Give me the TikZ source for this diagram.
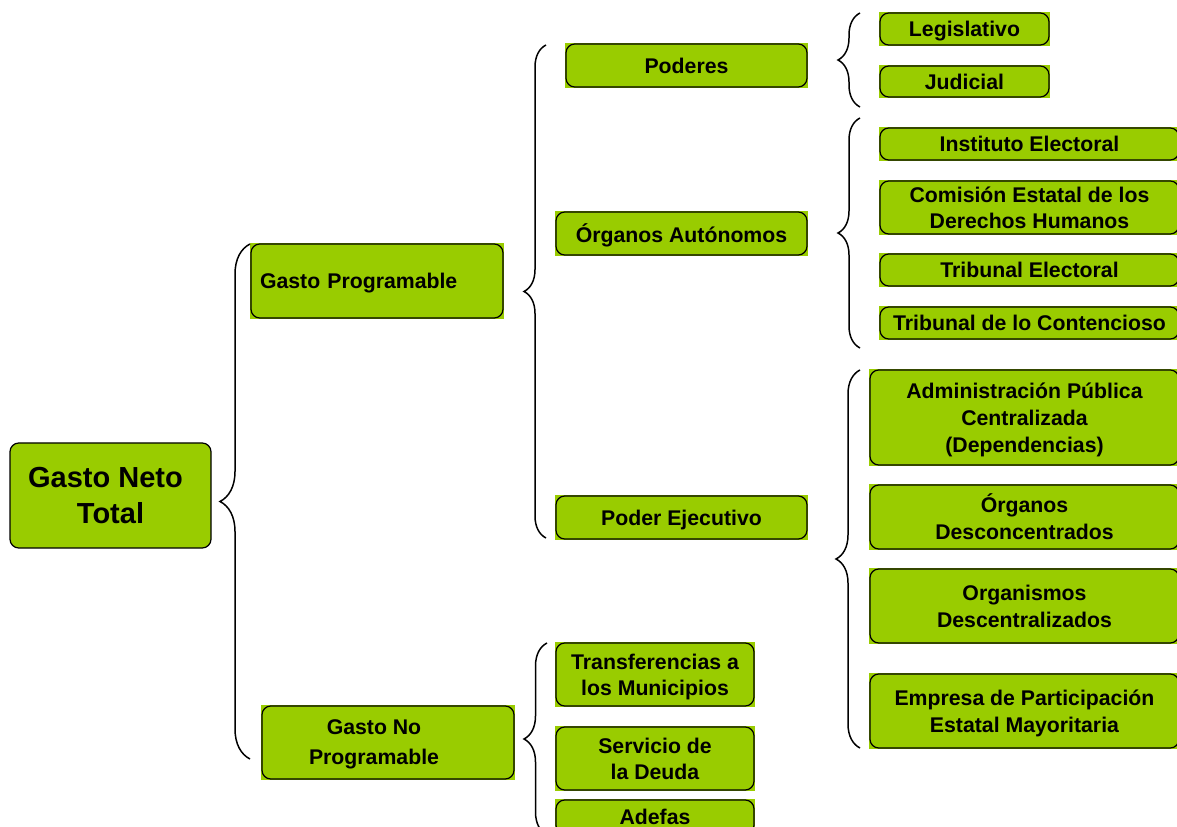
\documentclass[tikz,border=0pt]{standalone}
\usepackage{fontspec}
\setmainfont{Liberation Sans}
\usetikzlibrary{decorations.pathreplacing,backgrounds}
\definecolor{boxgreen}{RGB}{153,204,0}

% \gbox[options]{name}{left}{top}{right}{bottom}{text}
\newcommand\gbox[7][]{%
  \node[box,minimum width={(#5-#3)*0.02cm},minimum height={(#6-#4)*0.02cm},#1]
    (#2) at ({(#3+#5)/2},{(#4+#6)/2}) {#7};}

\begin{document}
\begin{tikzpicture}[x=0.02cm,y=-0.02cm,
  box/.style={draw=black, line width=0.7pt, rounded corners=5pt, fill=boxgreen,
    inner sep=0pt, align=center, text depth=0pt,
    font=\bfseries\fontsize{12.1}{14.8}\selectfont},
  wide/.style={font=\bfseries\fontsize{12.1}{15.3}\selectfont},
  cbrace/.style={decorate, decoration={brace, amplitude=#1}, line width=0.85pt},
]
\useasboundingbox (0,0) rectangle (1177,827);
\clip (0,0) rectangle (1177,827);

% root
\gbox[font=\bfseries\fontsize{16.5}{20.4}\selectfont]{gnt}{10}{443}{211}{548}{Gasto Neto\hspace*{0.2cm}\\Total}

% first level
\gbox[text width=4.68cm, align=left, inner xsep=0.18cm]{gp}{251}{244}{503}{318}{Gasto Programable}
\gbox[font=\bfseries\fontsize{12.1}{17}\selectfont]{gnp}{262}{706}{514}{779}{Gasto No\hspace*{0.56cm}\\Programable\hspace*{0.56cm}}

% second level
\gbox{pod}{566}{44}{807}{87}{Poderes}
\gbox{oa}{556}{212}{807}{255}{Órganos Autónomos}
\gbox{pe}{556}{496}{807}{539}{Poder Ejecutivo}
\gbox{tm}{556}{643}{754}{706}{Transferencias a\\los Municipios}
\gbox{sd}{556}{727}{754}{790}{Servicio de\\la Deuda}
\gbox{ad}{556}{800}{754}{834}{Adefas}

% third level
\gbox{leg}{880}{13}{1049}{45}{Legislativo}
\gbox{jud}{880}{66}{1049}{97}{Judicial}
\gbox{ie}{880}{128}{1179}{160}{Instituto Electoral}
\gbox{ce}{880}{181}{1179}{234}{Comisión Estatal de los\\Derechos Humanos}
\gbox{te}{880}{254}{1179}{286}{Tribunal Electoral}
\gbox{tc}{880}{307}{1179}{339}{Tribunal de lo Contencioso}
\gbox[wide]{apc}{870}{370}{1179}{465}{Administración Pública\\Centralizada\\(Dependencias)}
\gbox[wide]{od}{870}{485}{1179}{549}{Órganos\\Desconcentrados}
\gbox[wide]{ode}{870}{569}{1179}{643}{Organismos\\Descentralizados}
\gbox[wide]{epe}{870}{674}{1179}{748}{Empresa de Participación\\Estatal Mayoritaria}

% square fill behind the rounded outlines
\begin{scope}[on background layer]
  \foreach \n in {gp,gnp,pod,oa,pe,tm,sd,ad,leg,jud,ie,ce,te,tc,apc,od,ode,epe}
    \fill[boxgreen] (\n.south west) rectangle (\n.north east);
\end{scope}

% brace end points
\coordinate (b1t) at (250,244);  \coordinate (b1b) at (250,759);
\coordinate (b2t) at (546,45);   \coordinate (b2b) at (546,538);
\coordinate (b6t) at (547,643);  \coordinate (b6b) at (547,835);
\coordinate (b3t) at (860,13);   \coordinate (b3b) at (860,107);
\coordinate (b4t) at (860,118);  \coordinate (b4b) at (860,348);
\coordinate (b5t) at (860,370);  \coordinate (b5b) at (860,748);

% braces grouping each level
\draw[cbrace=0.6cm]  (b1b) -- (b1t);
\draw[cbrace=0.44cm] (b2b) -- (b2t);
\draw[cbrace=0.46cm] (b6b) -- (b6t);
\draw[cbrace=0.44cm] (b3b) -- (b3t);
\draw[cbrace=0.44cm] (b4b) -- (b4t);
\draw[cbrace=0.48cm] (b5b) -- (b5t);
\end{tikzpicture}
\end{document}
